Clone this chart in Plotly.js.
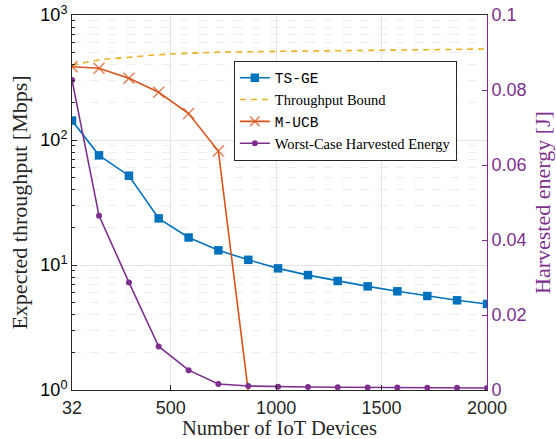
<!DOCTYPE html>
<html>
<head>
<meta charset="utf-8">
<script src="https://cdn.plot.ly/plotly-3.0.1.min.js"></script>
<style>html,body{margin:0;padding:0;background:#fff;}#chart{width:556px;height:439px;}</style>
</head>
<body>
<div id="chart"></div>
<script>
// Number of IoT devices (x positions of the markers)
const devices = [32, 160, 302, 443, 585, 726, 868, 1009, 1151, 1292, 1434, 1575, 1717, 1858, 2000];
// Expected throughput [Mbps]
const tsge = [143, 75.4, 51.8, 23.6, 16.6, 13.1, 11.0, 9.4, 8.3, 7.45, 6.75, 6.16, 5.65, 5.22, 4.88];
const bound = [396, 437, 459, 481, 494, 503, 508, 512, 515, 518, 521, 524, 527, 531, 535];
const mucbDevices = [32, 160, 302, 443, 585, 726, 868];
const mucb = [386, 375, 312, 241, 163, 81.7, 0.97];
// Worst-case harvested energy [J]
const energy = [0.0827, 0.0465, 0.0287, 0.0116, 0.0053, 0.0016, 0.00107, 0.00088, 0.0008, 0.00072, 0.00068, 0.00064, 0.0006, 0.00058, 0.00055];
// Tick labels
const xTicks = [32, 500, 1000, 1500, 2000];
const yTicks = [1, 10, 100, 1000];
const yTickText = ['10<sup>0</sup>', '10<sup>1</sup>', '10<sup>2</sup>', '10<sup>3</sup>'];
const y2Ticks = [0, 0.02, 0.04, 0.06, 0.08, 0.1];
const y2TickText = ['0', '0.02', '0.04', '0.06', '0.08', '0.1'];

// minor log ticks 2..9 in each decade
const yMinor = [];
for (let d = 0; d < 3; d++) for (let k = 2; k <= 9; k++) yMinor.push(k * Math.pow(10, d));

const blue = '#0072BD', yellow = '#EDB120', orange = '#D95319', purple = '#7E2F8E', dark = '#262626';
const serif = 'Liberation Serif, Times New Roman, serif';
const sans = 'Liberation Sans, Arial, sans-serif';
const mono = 'Liberation Mono, DejaVu Sans Mono, monospace';

const traces = [
  {x: devices, y: tsge, name: '<span style="font-family:' + mono + '">TS-GE</span>', mode: 'lines+markers',
   line: {color: blue, width: 1.6}, marker: {symbol: 'square', size: 8.5, color: blue}, yaxis: 'y'},
  {x: devices, y: bound, name: 'Throughput Bound', mode: 'lines',
   line: {color: yellow, width: 1.6, dash: '6px,5px', shape: 'spline'}, yaxis: 'y'},
  {x: mucbDevices, y: mucb, name: '<span style="font-family:' + mono + '">M-UCB</span>', mode: 'lines+markers',
   line: {color: orange, width: 1.6},
   marker: {symbol: 'x-thin', size: mucb.map((v, i) => i === mucb.length - 1 ? 0 : 11), color: orange, line: {color: orange, width: 1.6}}, yaxis: 'y'},
  {x: devices, y: energy, name: 'Worst-Case Harvested Energy', mode: 'lines+markers',
   line: {color: purple, width: 1.6}, marker: {symbol: 'circle', size: 6, color: purple}, yaxis: 'y2'}
];

const layout = {
  width: 556, height: 439,
  margin: {l: 72, r: 69, t: 15, b: 49, pad: 0},
  paper_bgcolor: '#ffffff', plot_bgcolor: '#ffffff',
  showlegend: true,
  legend: {x: 0.39, y: 0.878, xanchor: 'left', yanchor: 'top',
    bgcolor: '#ffffff', bordercolor: dark, borderwidth: 1,
    font: {family: serif, size: 14.5, color: '#000'}, itemwidth: 30, tracegroupgap: 0},
  xaxis: {range: [32, 2000], tickvals: xTicks, ticktext: xTicks.map(String),
    showline: true, linecolor: dark, linewidth: 1, mirror: true,
    ticks: 'inside', ticklen: 5, tickcolor: dark, ticklabelstandoff: 1,
    showgrid: true, gridcolor: '#e3e3e3', zeroline: false,
    tickfont: {family: sans, size: 18, color: dark},
    title: {text: 'Number of IoT Devices', font: {family: serif, size: 20.5, color: dark}, standoff: 6}},
  yaxis: {type: 'log', range: [0, 3], tickvals: yTicks, ticktext: yTickText,
    showline: true, linecolor: dark, linewidth: 1,
    ticks: 'inside', ticklen: 5, tickcolor: dark,
    showgrid: true, gridcolor: '#e3e3e3', zeroline: false,
    minor: {tickvals: yMinor, ticks: 'inside', ticklen: 3, tickcolor: dark, showgrid: true, gridcolor: '#ededed', griddash: 'dash'},
    tickfont: {family: sans, size: 18, color: '#000'},
    title: {text: 'Expected throughput [Mbps]', font: {family: serif, size: 22, color: dark}, standoff: 6}},
  yaxis2: {overlaying: 'y', side: 'right', range: [0, 0.1], tickvals: y2Ticks, ticktext: y2TickText,
    showline: true, linecolor: purple, linewidth: 1,
    ticks: 'inside', ticklen: 5, tickcolor: purple,
    showgrid: false, zeroline: false,
    tickfont: {family: sans, size: 18, color: purple},
    title: {text: 'Harvested energy [J]', font: {family: serif, size: 22, color: purple}, standoff: 8}}
};

Plotly.newPlot('chart', traces, layout, {staticPlot: true, displayModeBar: false});
</script>
</body>
</html>
